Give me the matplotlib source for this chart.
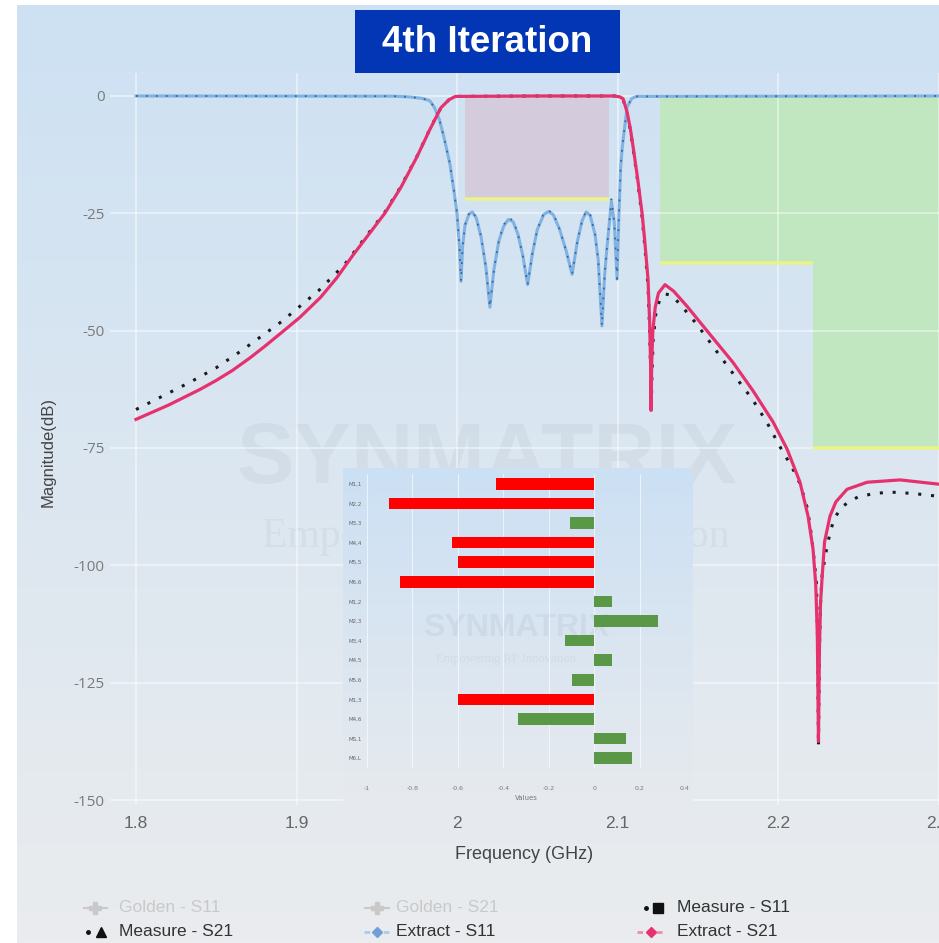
import matplotlib.pyplot as plt
import numpy as np
from matplotlib.patches import Rectangle

# ---- data ----
# Extract - S21 (pink)
s21_ext_f = [1.800, 1.820, 1.840, 1.850, 1.860, 1.871, 1.880, 1.890, 1.902, 1.915,
             1.925, 1.935, 1.945, 1.955, 1.965, 1.975, 1.983, 1.990, 1.995, 1.999,
             2.050, 2.098, 2.1015, 2.1035, 2.106, 2.108, 2.1097, 2.1125, 2.1153, 2.117,
             2.119, 2.1200, 2.1206, 2.1209, 2.1213, 2.122, 2.1235, 2.1255, 2.1296, 2.135,
             2.1433, 2.1576, 2.172, 2.1844, 2.197, 2.2056, 2.2137, 2.2187, 2.2218, 2.2235,
             2.2245, 2.2252, 2.2258, 2.2265, 2.2274, 2.229, 2.2324, 2.236, 2.243, 2.2555,
             2.276, 2.300]
s21_ext_db = [-68.9, -65.9, -62.5, -60.6, -58.5, -55.8, -53.4, -50.6, -47.2, -42.9,
              -38.8, -34.0, -29.5, -25.0, -19.5, -13.0, -7.2, -2.5, -0.8, -0.1,
              0.0, 0.0, -0.2, -0.6, -3.5, -7.0, -10.8, -17.5, -25.0, -31.0,
              -39.0, -48.0, -57.0, -67.0, -57.0, -50.0, -45.0, -42.0, -40.2, -41.6,
              -44.8, -50.8, -56.8, -62.8, -69.5, -75.2, -82.3, -89.5, -96.5, -104.0,
              -115.0, -137.5, -118.0, -108.0, -103.0, -95.0, -89.5, -86.5, -83.8, -82.3,
              -81.8, -82.7]

# Measure - S21 (black dotted)
s21_meas_f = [1.800, 1.8336, 1.850, 1.866, 1.891, 1.914, 1.930, 1.945, 1.955, 1.965,
              1.975, 1.983, 1.990, 1.995, 1.999, 2.050, 2.098, 2.1015, 2.1035, 2.106,
              2.108, 2.1097, 2.1125, 2.1153, 2.117, 2.119, 2.1200, 2.1206, 2.1210, 2.1214,
              2.1222, 2.124, 2.1265, 2.130, 2.134, 2.140, 2.145, 2.150, 2.1545, 2.1626,
              2.168, 2.176, 2.184, 2.193, 2.201, 2.209, 2.2137, 2.218, 2.220, 2.2218,
              2.224, 2.2247, 2.2252, 2.2258, 2.2265, 2.2275, 2.2305, 2.2325, 2.235, 2.240,
              2.245, 2.250, 2.260, 2.270, 2.280, 2.290, 2.300]
s21_meas_db = [-66.8, -61.0, -57.9, -54.2, -48.0, -41.4, -35.9, -29.2, -24.8, -19.3,
               -12.9, -7.1, -2.5, -0.8, -0.1, 0.0, 0.0, -0.2, -0.7, -3.7,
               -7.3, -11.2, -18.0, -25.8, -32.0, -40.5, -49.5, -58.5, -67.5, -60.0,
               -52.0, -46.0, -43.2, -42.2, -42.5, -44.8, -46.8, -48.9, -51.0, -54.8,
               -57.3, -61.0, -64.6, -69.5, -74.6, -79.3, -82.6, -87.5, -91.6, -96.5,
               -104.0, -117.0, -138.5, -118.0, -108.0, -102.0, -96.0, -93.0, -90.0, -87.5,
               -86.3, -85.4, -84.7, -84.4, -84.6, -84.9, -85.3]

# Extract - S11 (blue) and Measure - S11 (same sweep)
s11_f = [1.800, 1.960, 1.970, 1.978, 1.983, 1.986, 1.989, 1.992, 1.9956, 1.998,
         2.000, 2.0015, 2.0025, 2.0035, 2.005, 2.0075, 2.0095, 2.012, 2.015, 2.018,
         2.0205, 2.023, 2.026, 2.029, 2.032, 2.035, 2.038, 2.041, 2.044, 2.047,
         2.050, 2.054, 2.057, 2.060, 2.064, 2.068, 2.0717, 2.075, 2.078, 2.0805,
         2.083, 2.086, 2.088, 2.0903, 2.092, 2.0935, 2.0962, 2.098, 2.0997, 2.1008,
         2.102, 2.103, 2.106, 2.109, 2.112, 2.300]
s11_ext_db = [0.0, -0.05, -0.2, -0.5, -1.0, -2.5, -5.0, -9.0, -14.5, -20.0,
              -25.0, -32.0, -39.5, -32.0, -27.5, -25.2, -24.7, -26.0, -30.0, -36.5,
              -45.0, -37.0, -31.0, -27.8, -26.3, -26.8, -29.5, -34.0, -40.2, -33.5,
              -28.5, -25.3, -24.6, -25.3, -28.5, -33.0, -38.0, -31.0, -26.5, -24.7,
              -25.5, -29.5, -35.0, -49.0, -38.0, -32.0, -22.5, -27.0, -39.0, -26.0,
              -15.0, -10.8, -2.3, -0.5, -0.1, 0.0]
s11_meas_db = [0.0, -0.05, -0.2, -0.5, -1.0, -2.5, -5.0, -9.0, -14.5, -20.0,
               -25.0, -32.0, -39.5, -32.0, -27.5, -25.0, -24.5, -26.0, -30.0, -36.5,
               -45.0, -37.0, -31.0, -27.5, -26.0, -26.5, -29.5, -34.0, -40.2, -33.5,
               -28.5, -25.0, -24.4, -25.0, -28.5, -33.0, -38.0, -31.0, -26.5, -24.5,
               -25.3, -29.5, -35.0, -49.0, -38.0, -32.0, -22.0, -27.0, -39.0, -26.0,
               -15.0, -10.8, -2.3, -0.5, -0.1, 0.0]

# spec masks
pass_f, pass_db = [2.005, 2.095], -22
stop1_f, stop1_db = [2.1265, 2.222], -35.5
stop2_f, stop2_db = [2.222, 2.32], -75

# inset: coupling matrix deviations
inset_labels = ['M1,1', 'M2,2', 'M3,3', 'M4,4', 'M5,5', 'M6,6', 'M1,2', 'M2,3',
                'M3,4', 'M4,5', 'M5,6', 'M1,3', 'M4,6', 'MS,1', 'M6,L']
inset_values = [-0.433, -0.901, -0.107, -0.626, -0.600, -0.854, 0.078, 0.280,
                -0.129, 0.078, -0.097, -0.600, -0.336, 0.139, 0.168]

legend_labels = ['Golden - S11', 'Golden - S21', 'Measure - S11',
                 'Measure - S21', 'Extract - S11', 'Extract - S21']

xticks = [1.8, 1.9, 2.0, 2.1, 2.2, 2.3]
yticks = [0, -25, -50, -75, -100, -125, -150]

# ---- layout helpers ----
W, H = 939, 943
PINK = '#e5326e'
BLUE = '#80b2e4'
SANS = 'Liberation Sans'


def fpos(x0, y0, x1, y1):
    return [x0 / W, 1 - y1 / H, (x1 - x0) / W, (y1 - y0) / H]


def gradient(top, bottom, n=256):
    t = np.linspace(0, 1, n)[:, None, None]
    return (np.array(top) * (1 - t) + np.array(bottom) * t) / 255.0


fig = plt.figure(figsize=(W / 100, H / 100), dpi=100)

# page background
bg = fig.add_axes([0, 0, 1, 1], zorder=0)
bg.imshow(gradient((205, 225, 243), (234, 236, 238)), extent=(17, W, H, 5), aspect='auto')
bg.set_xlim(0, W)
bg.set_ylim(H, 0)
bg.axis('off')

# ---- main chart ----
ax = fig.add_axes(fpos(110, 72.5, 939, 804.7), zorder=1)
ax.patch.set_alpha(0)
ax.set_xlim(1.8 - 26 / 1605, 2.3003)
ax.set_ylim(-151, 5)
for s in ax.spines.values():
    s.set_visible(False)

ax.set_axisbelow(True)
ax.grid(True, color='white', lw=1.2, alpha=0.55)

ax.add_patch(Rectangle((pass_f[0], pass_db), pass_f[1] - pass_f[0], -pass_db,
                       fc='#d4cbdc', ec='none', zorder=0.3))
ax.add_patch(Rectangle((stop1_f[0], stop1_db), stop1_f[1] - stop1_f[0], -stop1_db,
                       fc='#c0e7c0', ec='none', zorder=0.3))
ax.add_patch(Rectangle((stop2_f[0], stop2_db), stop2_f[1] - stop2_f[0], -stop2_db,
                       fc='#c0e7c0', ec='none', zorder=0.3))
for fr, lvl in [(pass_f, pass_db), (stop1_f, stop1_db), (stop2_f, stop2_db)]:
    ax.plot(fr, [lvl, lvl], color='#eaf28a', lw=2.6, zorder=0.6, solid_capstyle='butt')

# watermark
ax.text(487 / W, 1 - 461 / H, 'SYNMATRIX', transform=fig.transFigure, ha='center',
        va='center', fontsize=62, fontweight='bold', family=SANS,
        color='#8f9aa6', alpha=0.11, zorder=0.4)
ax.text(262 / W, 1 - 537 / H, 'Empowering RF Innovation', transform=fig.transFigure,
        ha='left', va='center', fontsize=30, family='Liberation Serif',
        color='#8f9aa6', alpha=0.11, zorder=0.4)

ax.plot(s21_meas_f, s21_meas_db, color='#1c1c1c', lw=2.2, ls=(0, (1, 3.2)), zorder=3)
ax.plot(s11_f, s11_ext_db, color=BLUE, lw=2.2, zorder=4)
ax.plot(s11_f, s11_meas_db, color='#3f6590', lw=1.3, ls=(0, (1, 4.5)), zorder=5)
ax.plot(s21_ext_f, s21_ext_db, color=PINK, lw=2.3, zorder=6)

ax.set_xticks(xticks)
ax.set_xticklabels(['1.8', '1.9', '2', '2.1', '2.2', '2.3'], family=SANS,
                   fontsize=12.5, color='#666666')
ax.set_yticks(yticks)
ax.set_yticklabels([str(v) for v in yticks], family='Open Sans', fontsize=11,
                   color='#7a7a7a')
ax.tick_params(axis='x', length=0, pad=8)
ax.tick_params(axis='y', length=0, pad=4)
ax.set_xlabel('Frequency (GHz)', family=SANS, fontsize=13, color='#444444', labelpad=11)
fig.text(48 / W, 1 - 452 / H, 'Magnitude(dB)', rotation=90, ha='center', va='center',
         family=SANS, fontsize=12, color='#444444')

# ---- inset ----
ib = fig.add_axes(fpos(343, 468, 693, 805), zorder=2)
ib.imshow(gradient((204, 224, 244), (231, 234, 238)), extent=(0, 1, 0, 1), aspect='auto')
ib.set_xlim(0, 1)
ib.set_ylim(0, 1)
ib.axis('off')
ib.text(516 / W, 1 - 628 / H, 'SYNMATRIX', transform=fig.transFigure, ha='center',
        va='center', fontsize=23, fontweight='bold', family=SANS,
        color='#8f9aa6', alpha=0.13)
ib.text(506 / W, 1 - 659 / H, 'Empowering RF Innovation', transform=fig.transFigure,
        ha='center', va='center', fontsize=9, family='Liberation Serif',
        color='#8f9aa6', alpha=0.13)

ia = fig.add_axes(fpos(367, 474, 685, 768), zorder=3)
ia.patch.set_alpha(0)
rows = np.arange(len(inset_values))
bar_colors = ['#ff0000' if abs(v) > 0.4 else '#5a9848' for v in inset_values]
ia.barh(rows, inset_values, height=0.6, color=bar_colors, zorder=2)
ia.set_xlim(-1, 0.4)
ia.set_ylim(len(inset_values) - 0.5, -0.5)
for s in ia.spines.values():
    s.set_visible(False)
ia.set_axisbelow(True)
ia.grid(True, axis='x', color='white', lw=0.8, alpha=0.6)
ia.set_yticks(rows)
ia.set_yticklabels(inset_labels, fontsize=4, color='#666666')
ia.set_xticks([-1, -0.8, -0.6, -0.4, -0.2, 0, 0.2, 0.4])
ia.set_xticklabels(['-1', '-0.8', '-0.6', '-0.4', '-0.2', '0', '0.2', '0.4'],
                   fontsize=4.5, color='#777777')
ia.tick_params(axis='x', length=0, pad=13)
ia.tick_params(axis='y', length=0, pad=4)
ia.set_xlabel('Values', fontsize=5, color='#777777', labelpad=3)

# ---- title and legend overlay ----
ov = fig.add_axes([0, 0, 1, 1], zorder=5)
ov.set_xlim(0, W)
ov.set_ylim(H, 0)
ov.axis('off')
ov.add_patch(Rectangle((355, 10), 265, 63, fc='#0336b4', ec='none'))
ov.text(487.5, 43, '4th Iteration', color='white', fontsize=26.5, fontweight='bold',
        family='Liberation Sans', ha='center', va='center')

grey = '#c9c9c9'
row_y = [908, 932]
text_x = [119, 396, 677]
for i, lab in enumerate(legend_labels):
    r, c = divmod(i, 3)
    col = grey if i < 2 else '#333333'
    ov.text(text_x[c], row_y[r], lab, family=SANS, fontsize=12.5, color=col,
            ha='left', va='center')
# legend symbols
ov.plot([84, 107], [908, 908], color=grey, lw=1.5)
ov.plot([95], [908], marker='P', ms=9, color=grey)
ov.plot([365, 389], [908, 908], color=grey, lw=1.5)
ov.plot([377], [908], marker='P', ms=9, color=grey)
ov.plot([646], [908], marker='o', ms=2.5, color='#111111')
ov.plot([658], [908], marker='s', ms=6.5, color='#111111')
ov.plot([88], [932], marker='o', ms=2.5, color='#111111')
ov.plot([101], [932], marker='^', ms=7, color='#111111')
ov.plot([364, 390], [932, 932], color='#a8cbee', lw=2, ls=(0, (2, 1.5)))
ov.plot([377], [932], marker='D', ms=5, color='#6f9fd6')
ov.plot([637, 666], [932, 932], color='#f28aab', lw=2, ls=(0, (2, 1.5)))
ov.plot([651], [932], marker='D', ms=5, color=PINK)

fig.savefig('out.png', dpi=100)
